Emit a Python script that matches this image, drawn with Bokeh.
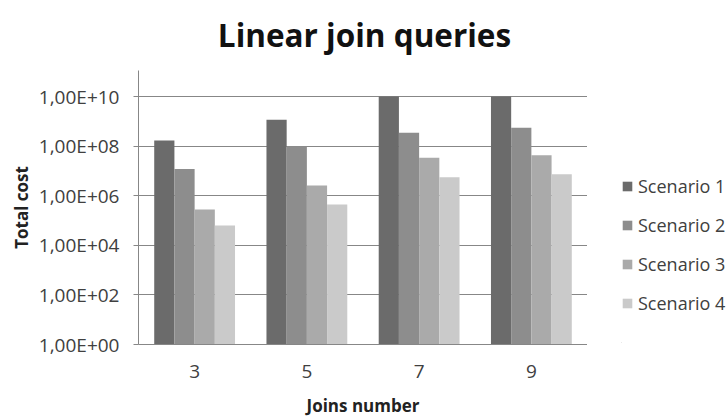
from bokeh.plotting import figure
from bokeh.layouts import row, column
from bokeh.models import ColumnDataSource, FactorRange, Range1d, FixedTicker, Legend, LegendItem
from bokeh.core.properties import value
from bokeh.transform import dodge
from bokeh.embed import file_html
from bokeh.resources import INLINE

# ---- data ----
title_text = "Linear join queries"
categories = ["3", "5", "7", "9"]
scenario_1 = [1.7e8, 1.15e9, 1.0e10, 1.0e10]
scenario_2 = [1.2e7, 1.0e8, 3.5e8, 5.5e8]
scenario_3 = [2.8e5, 2.6e6, 3.4e7, 4.3e7]
scenario_4 = [6.3e4, 4.4e5, 5.6e6, 7.4e6]
series_names = ["Scenario 1", "Scenario 2", "Scenario 3", "Scenario 4"]
y_ticks = [1.0, 1e2, 1e4, 1e6, 1e8, 1e10]
y_tick_labels = ["1,00E+00", "1,00E+02", "1,00E+04", "1,00E+06", "1,00E+08", "1,00E+10"]

colors = ["#6b6b6b", "#8d8d8d", "#aaaaaa", "#cacaca"]
offsets = [-0.27, -0.09, 0.09, 0.27]
FONT = "Open Sans"
TXT = "#404040"


def clean(fig):
    fig.outline_line_color = None
    fig.background_fill_color = "white"
    fig.border_fill_color = "white"


# ---- title strip ----
t = figure(width=728, height=70, output_backend="svg", toolbar_location=None,
           x_range=Range1d(0, 728), y_range=Range1d(70, 0), min_border=0,
           x_axis_type=None, y_axis_type=None)
t.grid.grid_line_color = None
clean(t)
t.text(x=[364], y=[34], text=[title_text], text_align="center", text_baseline="alphabetic",
       text_font=value(FONT), text_font_style="bold", text_font_size="31.5px", text_color="#111111")

# ---- main chart ----
source = ColumnDataSource(dict(x=categories, s1=scenario_1, s2=scenario_2,
                               s3=scenario_3, s4=scenario_4))

p = figure(frame_width=449, frame_height=274, output_backend="svg", toolbar_location=None,
           x_range=FactorRange(factors=categories), y_range=Range1d(1, 10 ** 11.05),
           y_axis_type="log",
           min_border_left=138, min_border_right=0, min_border_top=0, min_border_bottom=73)
clean(p)

for col, off, c in zip(["s1", "s2", "s3", "s4"], offsets, colors):
    p.vbar(x=dodge("x", off, range=p.x_range), top=col, bottom=1, width=0.18,
           source=source, fill_color=c, line_color=None)

p.xgrid.grid_line_color = None
p.ygrid.grid_line_color = "#878787"
p.ygrid.grid_line_width = 1
p.yaxis.ticker = FixedTicker(ticks=y_ticks)
p.yaxis.major_label_overrides = dict(zip(y_ticks, y_tick_labels))
p.yaxis.minor_tick_line_color = None
p.yaxis.major_tick_out = 5
p.yaxis.major_tick_in = 0
p.yaxis.major_tick_line_color = "#878787"
p.yaxis.axis_line_color = "#878787"
p.yaxis.major_label_standoff = 14
p.yaxis.axis_label = "Total cost"
p.yaxis.axis_label_standoff = 3

p.xaxis.axis_line_color = "#878787"
p.xaxis.major_tick_line_color = None
p.xaxis.major_tick_out = 0
p.xaxis.major_label_standoff = 20
p.xaxis.axis_label = "Joins number"
p.xaxis.axis_label_standoff = 13

for ax in (p.xaxis, p.yaxis):
    ax.major_label_text_font = FONT
    ax.major_label_text_font_size = "19px"
    ax.major_label_text_color = TXT
    ax.axis_label_text_font = FONT
    ax.axis_label_text_font_size = "17px"
    ax.axis_label_text_font_style = "bold"
    ax.axis_label_text_color = "#222222"

# ---- legend strip (frame aligned with the chart frame by the row layout) ----
q = figure(width=141, height=347, output_backend="svg", toolbar_location=None,
           x_range=Range1d(0, 1), y_range=Range1d(0, 1),
           min_border_left=34, min_border_top=0, min_border_right=0, min_border_bottom=73,
           x_axis_type=None, y_axis_type=None)
q.grid.grid_line_color = None
clean(q)

items = []
for n, c in zip(series_names, colors):
    r = q.vbar(x=[-10], top=[-10], bottom=[-11], width=0.1, fill_color=c, line_color=None)
    items.append(LegendItem(label=n, renderers=[r]))

legend = Legend(items=items, location=(0, 27), orientation="vertical")
legend.margin = 0
legend.padding = 0
legend.border_line_color = None
legend.background_fill_alpha = 0
legend.glyph_width = 12
legend.glyph_height = 12
legend.label_height = 20
legend.label_standoff = 5
legend.spacing = 15
legend.label_text_font = FONT
legend.label_text_font_size = "18px"
legend.label_text_color = TXT
q.add_layout(legend, "center")

layout = column(t, row(p, q))
open("out.html", "w").write(file_html(layout, INLINE))
